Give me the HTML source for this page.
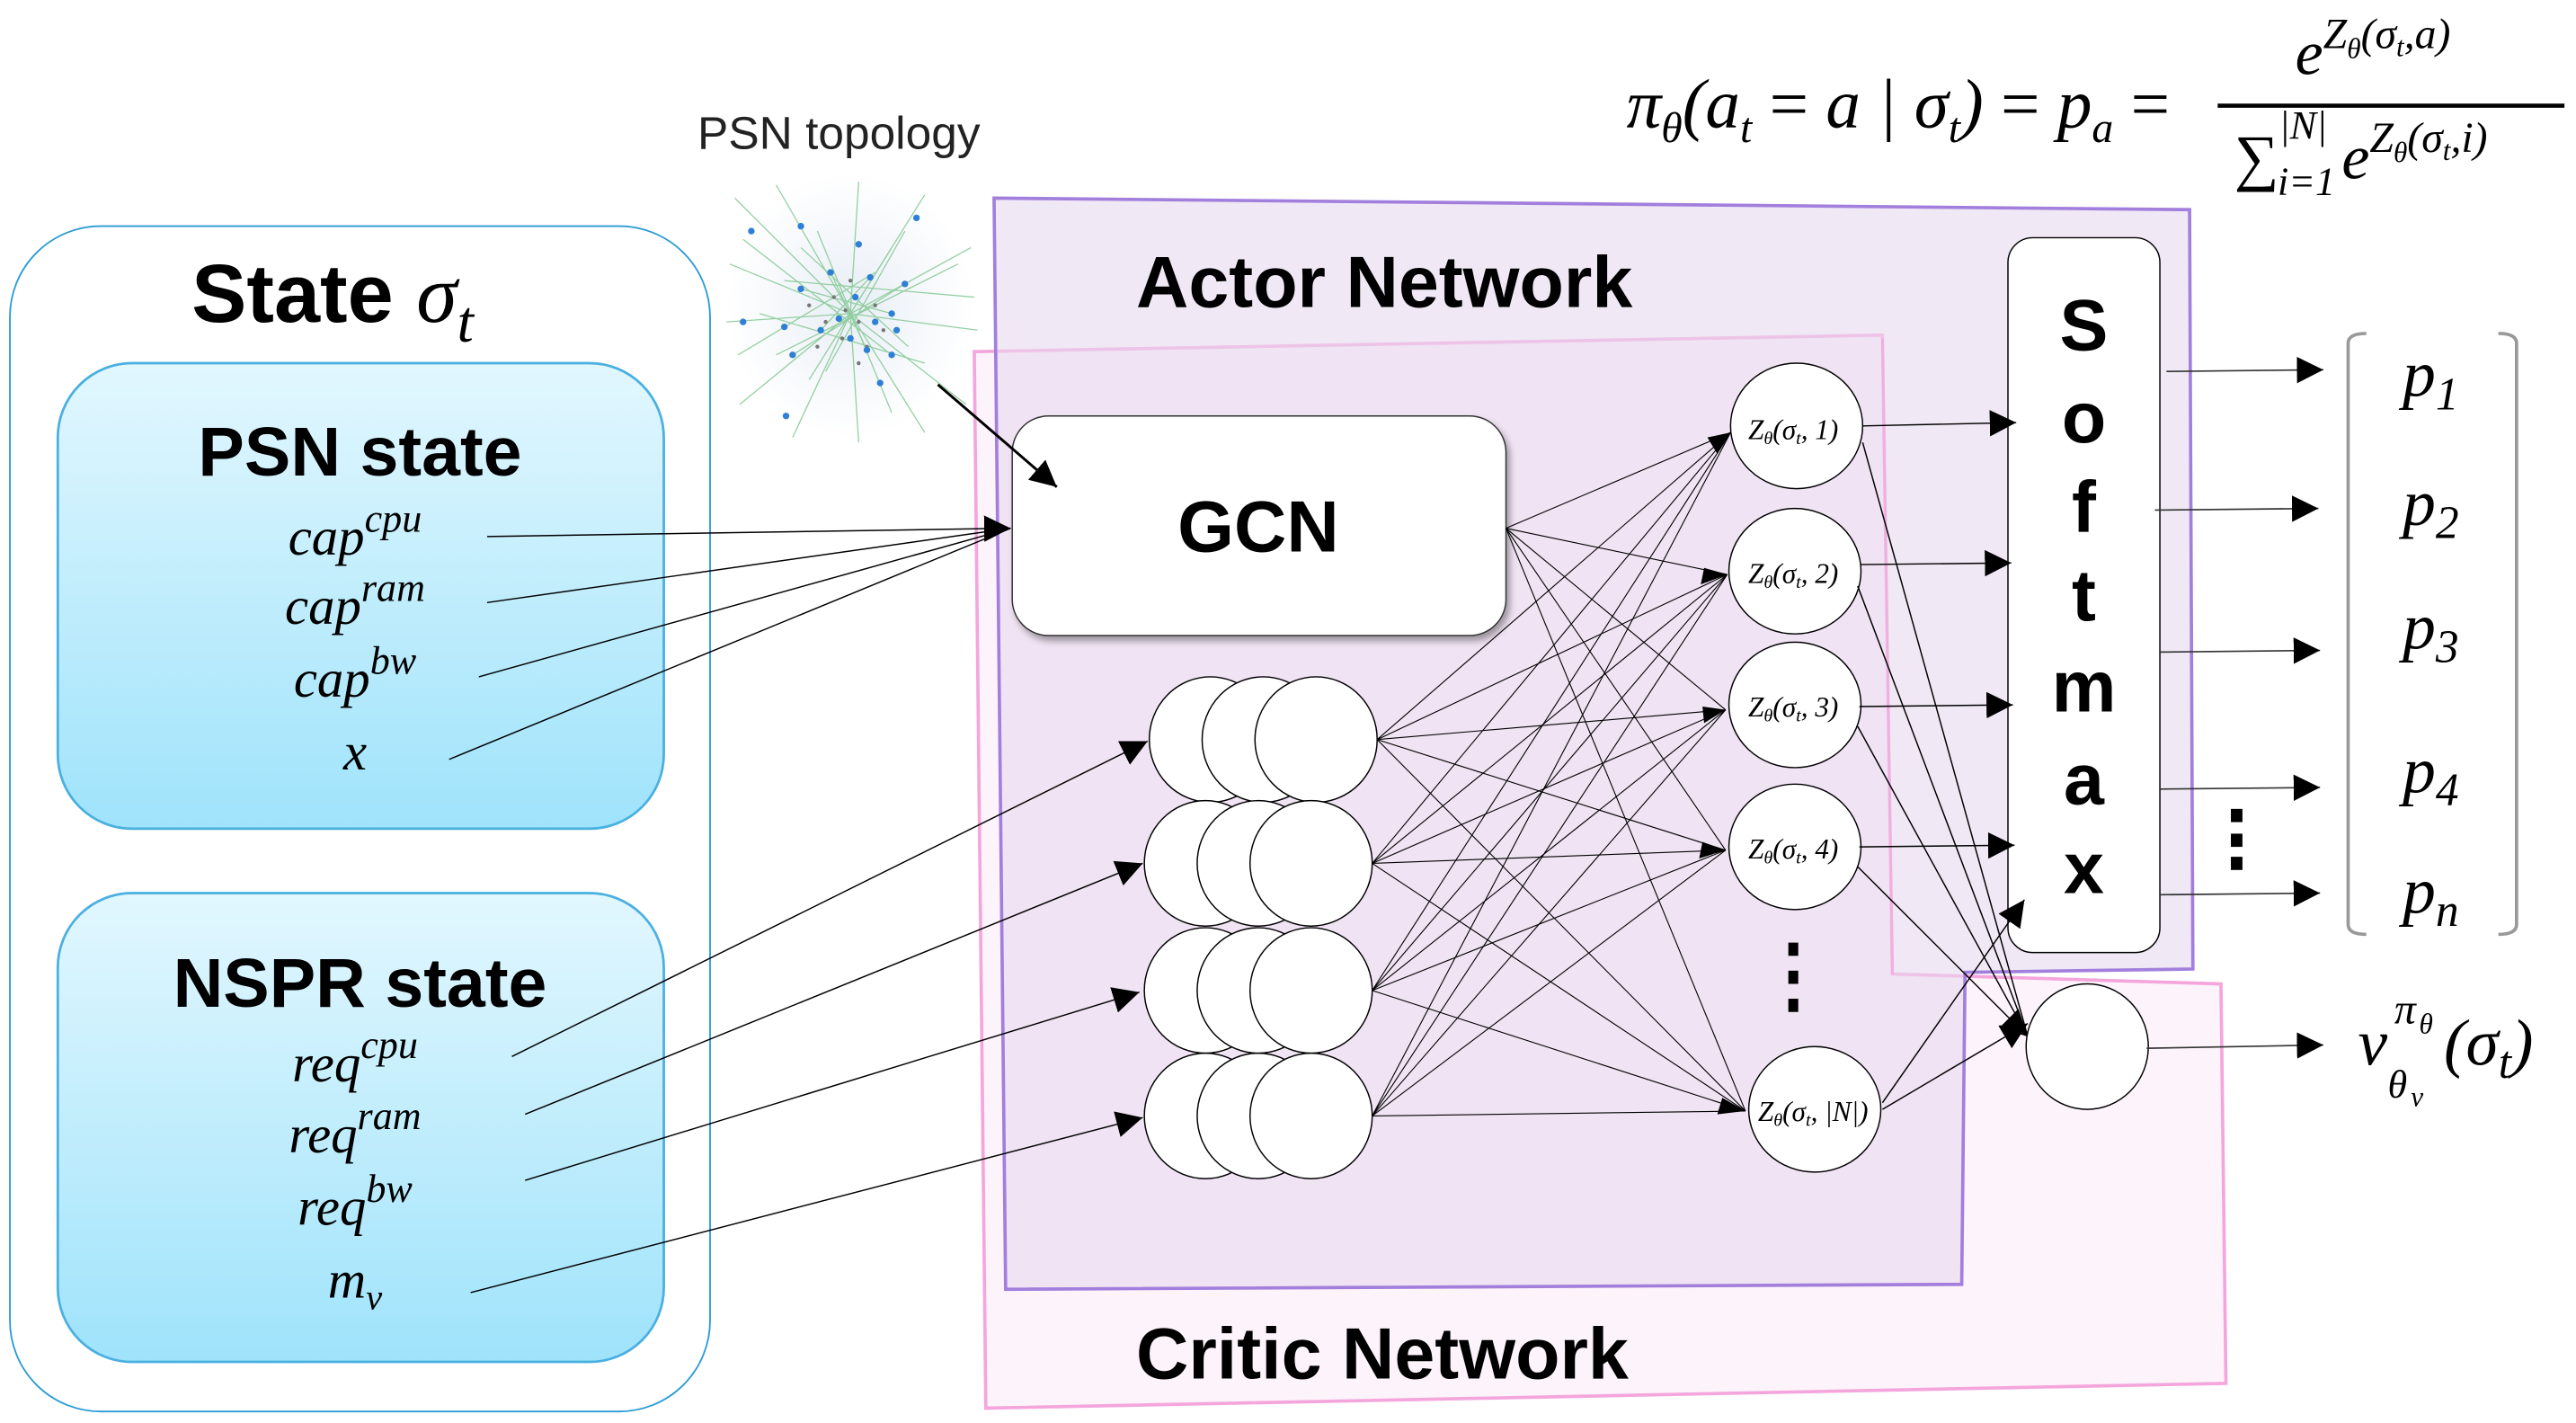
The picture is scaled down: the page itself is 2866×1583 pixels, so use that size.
<!DOCTYPE html>
<html><head><meta charset="utf-8"><style>
html,body{margin:0;padding:0;background:#fff;}
svg{display:block;}
.m{font-family:"Liberation Serif","DejaVu Serif",serif;font-style:italic;}
.b{font-family:"Liberation Sans",sans-serif;font-weight:bold;}
</style></head><body>
<svg width="2866" height="1583" viewBox="0 0 1560 862" preserveAspectRatio="none" xmlns="http://www.w3.org/2000/svg">
<defs>
<linearGradient id="cy" x1="0" y1="0" x2="0" y2="1"><stop offset="0" stop-color="#e2f7fe"/><stop offset="1" stop-color="#9fe3fb"/></linearGradient>
<radialGradient id="bl" cx="0.5" cy="0.5" r="0.5"><stop offset="0" stop-color="#e8eef6"/><stop offset="1" stop-color="#ffffff"/></radialGradient>
<marker id="ah" viewBox="0 0 10 10" refX="10" refY="5" markerWidth="16" markerHeight="16" markerUnits="userSpaceOnUse" orient="auto"><path d="M0,0 L10,5 L0,10 z" fill="#000"/></marker>
<filter id="sh" x="-10%" y="-10%" width="130%" height="130%"><feDropShadow dx="2" dy="3" stdDeviation="2" flood-color="#000" flood-opacity="0.35"/></filter>
</defs>

<!-- State box -->
<rect x="6" y="137" width="424" height="718" rx="55" fill="#fff" stroke="#2a9bd6" stroke-width="1"/>
<text x="116" y="195" class="b" font-size="50">State <tspan class="m" font-weight="normal">σ<tspan font-size="36" dy="12">t</tspan></tspan></text>
<rect x="35" y="220" width="367" height="282" rx="45" fill="url(#cy)" stroke="#4ab0e0" stroke-width="1.5"/>
<text x="218" y="288" text-anchor="middle" class="b" font-size="42">PSN state</text>
<g class="m" font-size="32" text-anchor="middle">
<text x="215" y="336">cap<tspan font-size="24" dy="-14">cpu</tspan></text>
<text x="215" y="378">cap<tspan font-size="24" dy="-14">ram</tspan></text>
<text x="215" y="422">cap<tspan font-size="24" dy="-14">bw</tspan></text>
<text x="215" y="466">x</text>
</g>
<rect x="35" y="541" width="367" height="284" rx="45" fill="url(#cy)" stroke="#4ab0e0" stroke-width="1.5"/>
<text x="218" y="610" text-anchor="middle" class="b" font-size="42">NSPR state</text>
<g class="m" font-size="32" text-anchor="middle">
<text x="215" y="655">req<tspan font-size="24" dy="-14">cpu</tspan></text>
<text x="215" y="698">req<tspan font-size="24" dy="-14">ram</tspan></text>
<text x="215" y="742">req<tspan font-size="24" dy="-14">bw</tspan></text>
<text x="215" y="786">m<tspan font-size="22" dy="7">v</tspan></text>
</g>

<!-- PSN topology -->
<text x="508" y="90" text-anchor="middle" font-family="Liberation Sans,sans-serif" font-size="28" fill="#222">PSN topology</text>
<rect x="440" y="105" width="150" height="160" fill="url(#bl)"/>
<g stroke="#7cc58a" stroke-width="0.7" opacity="0.8">
<line x1="515" y1="190" x2="445" y2="120"/><line x1="515" y1="190" x2="470" y2="112"/><line x1="515" y1="190" x2="520" y2="110"/><line x1="515" y1="190" x2="560" y2="118"/><line x1="515" y1="190" x2="588" y2="150"/><line x1="515" y1="190" x2="592" y2="200"/><line x1="515" y1="190" x2="585" y2="245"/><line x1="515" y1="190" x2="560" y2="262"/><line x1="515" y1="190" x2="520" y2="268"/><line x1="515" y1="190" x2="480" y2="265"/><line x1="515" y1="190" x2="448" y2="245"/><line x1="515" y1="190" x2="440" y2="195"/><line x1="515" y1="190" x2="442" y2="160"/>
<line x1="475" y1="170" x2="590" y2="180"/><line x1="495" y1="140" x2="540" y2="250"/><line x1="470" y1="215" x2="580" y2="160"/><line x1="500" y1="225" x2="548" y2="140"/><line x1="460" y1="190" x2="560" y2="220"/><line x1="485" y1="150" x2="550" y2="210"/><line x1="540" y1="150" x2="490" y2="230"/><line x1="447" y1="215" x2="530" y2="165"/><line x1="450" y1="145" x2="540" y2="215"/>
<line x1="485" y1="175" x2="540" y2="190"/><line x1="503" y1="165" x2="525" y2="212"/><line x1="497" y1="200" x2="527" y2="168"/><line x1="480" y1="215" x2="548" y2="172"/>
</g>
<g fill="#777">
<circle cx="505" cy="180" r="1.2"/><circle cx="520" cy="195" r="1.2"/><circle cx="510" cy="205" r="1.2"/><circle cx="530" cy="185" r="1.2"/><circle cx="500" cy="195" r="1.2"/><circle cx="515" cy="170" r="1.2"/><circle cx="525" cy="210" r="1.2"/><circle cx="495" cy="210" r="1.2"/><circle cx="535" cy="200" r="1.2"/><circle cx="512" cy="188" r="1.2"/><circle cx="490" cy="185" r="1.2"/><circle cx="520" cy="220" r="1.2"/>
</g>
<g fill="#2f7fd6">
<circle cx="503" cy="165" r="2"/><circle cx="527" cy="168" r="2"/><circle cx="518" cy="180" r="2"/><circle cx="508" cy="193" r="2"/><circle cx="530" cy="195" r="2"/><circle cx="515" cy="205" r="2"/><circle cx="497" cy="200" r="2"/><circle cx="540" cy="190" r="2"/><circle cx="525" cy="212" r="2"/><circle cx="485" cy="175" r="2"/><circle cx="480" cy="215" r="2"/><circle cx="475" cy="198" r="2"/><circle cx="520" cy="148" r="2"/><circle cx="540" cy="215" r="2"/><circle cx="533" cy="232" r="2"/><circle cx="455" cy="140" r="2"/><circle cx="485" cy="137" r="2"/><circle cx="555" cy="132" r="2"/><circle cx="548" cy="172" r="2"/><circle cx="450" cy="195" r="2"/><circle cx="476" cy="252" r="2"/><circle cx="543" cy="200" r="2"/>
</g>

<!-- Critic region -->
<polygon points="590,213 1140,203 1146,590 1345,596 1348,838 597,853" fill="#fdf3fa" stroke="#f4a6dc" stroke-width="2"/>
<!-- Actor region -->
<polygon points="602,120 1326,127 1328,587 1190,589 1188,778 609,781" fill="#e7d9ef" fill-opacity="0.6" stroke="#a27fdd" stroke-width="2"/>
<line x1="1140" y1="205" x2="1146" y2="590" stroke="#f4a6dc" stroke-width="1.5" opacity="0.7"/>
<text x="688" y="186" class="b" font-size="44">Actor Network</text>
<text x="688" y="835" class="b" font-size="44">Critic Network</text>

<!-- GCN -->
<rect x="613" y="252" width="299" height="133" rx="22" fill="#fff" stroke="#333" stroke-width="0.8" filter="url(#sh)"/>
<text x="762" y="334" text-anchor="middle" class="b" font-size="44">GCN</text>
<line x1="568" y1="233" x2="640" y2="295" stroke="#000" stroke-width="1.6" marker-end="url(#ah)"/>

<!-- inputs -->
<g stroke="#000" stroke-width="0.8" fill="none">
<line x1="295" y1="325" x2="612" y2="320" marker-end="url(#ah)"/>
<line x1="295" y1="365" x2="612" y2="320"/>
<line x1="290" y1="410" x2="612" y2="320"/>
<line x1="272" y1="460" x2="612" y2="320"/>
<line x1="310" y1="640" x2="695" y2="449" marker-end="url(#ah)"/>
<line x1="318" y1="675" x2="692" y2="523" marker-end="url(#ah)"/>
<line x1="318" y1="715" x2="690" y2="601" marker-end="url(#ah)"/>
<line x1="285" y1="783" x2="692" y2="677" marker-end="url(#ah)"/>
</g>

<!-- stacks -->
<g fill="#fff" stroke="#000" stroke-width="0.8">
<ellipse cx="733" cy="448" rx="37" ry="38"/><ellipse cx="765" cy="448" rx="37" ry="38"/><ellipse cx="797" cy="448" rx="37" ry="38"/>
<ellipse cx="730" cy="523" rx="37" ry="38"/><ellipse cx="762" cy="523" rx="37" ry="38"/><ellipse cx="794" cy="523" rx="37" ry="38"/>
<ellipse cx="730" cy="600" rx="37" ry="38"/><ellipse cx="762" cy="600" rx="37" ry="38"/><ellipse cx="794" cy="600" rx="37" ry="38"/>
<ellipse cx="730" cy="676" rx="37" ry="38"/><ellipse cx="762" cy="676" rx="37" ry="38"/><ellipse cx="794" cy="676" rx="37" ry="38"/>
</g>

<!-- dense connections -->
<g stroke="#000" stroke-width="0.6">
<line x1="912" y1="320" x2="1048" y2="262"/><line x1="912" y1="320" x2="1046" y2="348"/><line x1="912" y1="320" x2="1045" y2="430"/><line x1="912" y1="320" x2="1045" y2="515"/><line x1="912" y1="320" x2="1057" y2="673"/>
<line x1="834" y1="448" x2="1048" y2="262"/><line x1="834" y1="448" x2="1046" y2="348"/><line x1="834" y1="448" x2="1045" y2="430"/><line x1="834" y1="448" x2="1045" y2="515"/><line x1="834" y1="448" x2="1057" y2="673"/>
<line x1="831" y1="523" x2="1048" y2="262"/><line x1="831" y1="523" x2="1046" y2="348"/><line x1="831" y1="523" x2="1045" y2="430"/><line x1="831" y1="523" x2="1045" y2="515"/><line x1="831" y1="523" x2="1057" y2="673"/>
<line x1="831" y1="600" x2="1048" y2="262"/><line x1="831" y1="600" x2="1046" y2="348"/><line x1="831" y1="600" x2="1045" y2="430"/><line x1="831" y1="600" x2="1045" y2="515"/><line x1="831" y1="600" x2="1057" y2="673"/>
<line x1="831" y1="676" x2="1048" y2="262"/><line x1="831" y1="676" x2="1046" y2="348"/><line x1="831" y1="676" x2="1045" y2="430"/><line x1="831" y1="676" x2="1045" y2="515"/><line x1="831" y1="676" x2="1057" y2="673"/>
</g>
<g fill="#000">
<path d="M1048,262 l-14,3 l6,10 z"/><path d="M1046,348 l-14,-4 l-2,10 z"/><path d="M1045,430 l-14,-2 l1,10 z"/><path d="M1045,515 l-14,-5 l-2,10 z"/><path d="M1057,673 l-14,-8 l-3,10 z"/>
</g>

<!-- Z nodes -->
<g fill="#fff" stroke="#000" stroke-width="0.8">
<ellipse cx="1088" cy="258" rx="40" ry="38"/>
<ellipse cx="1087" cy="346" rx="40" ry="38"/>
<ellipse cx="1087" cy="427" rx="40" ry="38"/>
<ellipse cx="1087" cy="513" rx="40" ry="38"/>
<ellipse cx="1099" cy="672" rx="40" ry="38"/>
</g>
<g class="m" font-size="17" text-anchor="middle">
<text x="1086" y="266">Z<tspan font-size="11" dy="3">θ</tspan><tspan dy="-3">(σ</tspan><tspan font-size="11" dy="3">t</tspan><tspan dy="-3">, 1)</tspan></text>
<text x="1086" y="353">Z<tspan font-size="11" dy="3">θ</tspan><tspan dy="-3">(σ</tspan><tspan font-size="11" dy="3">t</tspan><tspan dy="-3">, 2)</tspan></text>
<text x="1086" y="434">Z<tspan font-size="11" dy="3">θ</tspan><tspan dy="-3">(σ</tspan><tspan font-size="11" dy="3">t</tspan><tspan dy="-3">, 3)</tspan></text>
<text x="1086" y="520">Z<tspan font-size="11" dy="3">θ</tspan><tspan dy="-3">(σ</tspan><tspan font-size="11" dy="3">t</tspan><tspan dy="-3">, 4)</tspan></text>
<text x="1098" y="679">Z<tspan font-size="11" dy="3">θ</tspan><tspan dy="-3">(σ</tspan><tspan font-size="11" dy="3">t</tspan><tspan dy="-3">, |N|)</tspan></text>
</g>
<g fill="#000"><rect x="1083" y="571" width="6" height="8"/><rect x="1083" y="588" width="6" height="8"/><rect x="1083" y="605" width="6" height="8"/></g>

<!-- Softmax -->
<rect x="1216" y="144" width="92" height="433" rx="15" fill="#fff" stroke="#000" stroke-width="0.8"/>
<g class="b" font-size="44" text-anchor="middle">
<text x="1262" y="212">S</text><text x="1262" y="268">o</text><text x="1262" y="322">f</text><text x="1262" y="376">t</text><text x="1262" y="431">m</text><text x="1262" y="487">a</text><text x="1262" y="541">x</text>
</g>

<g stroke="#000" stroke-width="0.8">
<line x1="1128" y1="258" x2="1221" y2="256" marker-end="url(#ah)"/>
<line x1="1127" y1="342" x2="1218" y2="341" marker-end="url(#ah)"/>
<line x1="1126" y1="428" x2="1219" y2="427" marker-end="url(#ah)"/>
<line x1="1126" y1="513" x2="1220" y2="512" marker-end="url(#ah)"/>
<line x1="1128" y1="268" x2="1228" y2="628"/>
<line x1="1125" y1="355" x2="1228" y2="628"/>
<line x1="1125" y1="440" x2="1228" y2="628"/>
<line x1="1125" y1="525" x2="1228" y2="628" marker-end="url(#ah)"/>
<line x1="1140" y1="668" x2="1226" y2="545" marker-end="url(#ah)"/>
<line x1="1140" y1="672" x2="1228" y2="620" marker-end="url(#ah)"/>
</g>
<ellipse cx="1264" cy="634" rx="37" ry="38" fill="#fff" stroke="#000" stroke-width="0.8"/>

<!-- outputs -->
<g stroke="#333" stroke-width="0.9">
<line x1="1312" y1="225" x2="1407" y2="224" marker-end="url(#ah)"/>
<line x1="1305" y1="309" x2="1404" y2="308" marker-end="url(#ah)"/>
<line x1="1308" y1="395" x2="1405" y2="394" marker-end="url(#ah)"/>
<line x1="1308" y1="478" x2="1405" y2="477" marker-end="url(#ah)"/>
<line x1="1308" y1="542" x2="1405" y2="541" marker-end="url(#ah)"/>
<line x1="1300" y1="635" x2="1407" y2="633" marker-end="url(#ah)"/>
</g>
<g fill="#000"><rect x="1351" y="490" width="7" height="8"/><rect x="1351" y="505" width="7" height="8"/><rect x="1351" y="519" width="7" height="8"/></g>
<path d="M1433,202 Q1422,202 1422,208 L1422,560 Q1422,566 1433,566" fill="none" stroke="#999" stroke-width="2"/>
<path d="M1513,202 Q1524,202 1524,208 L1524,560 Q1524,566 1513,566" fill="none" stroke="#999" stroke-width="2"/>
<g class="m" font-size="40" text-anchor="middle">
<text x="1472" y="240">p<tspan font-size="28" dy="8">1</tspan></text>
<text x="1472" y="318">p<tspan font-size="28" dy="8">2</tspan></text>
<text x="1472" y="393">p<tspan font-size="28" dy="8">3</tspan></text>
<text x="1472" y="480">p<tspan font-size="28" dy="8">4</tspan></text>
<text x="1472" y="553">p<tspan font-size="28" dy="8">n</tspan></text>
</g>
<g class="m">
<text x="1428" y="645" font-size="40">v</text>
<text x="1450" y="620" font-size="26">π</text>
<text x="1465" y="626" font-size="17">θ</text>
<text x="1446" y="665" font-size="24">θ</text>
<text x="1460" y="670" font-size="17">v</text>
<text x="1480" y="645" font-size="40">(σ<tspan font-size="28" dy="8">t</tspan><tspan dy="-8">)</tspan></text>
</g>

<!-- formula -->
<text x="985" y="77" class="m" font-size="42">π<tspan font-size="26" dy="9">θ</tspan><tspan dy="-9">(a</tspan><tspan font-size="26" dy="9">t</tspan><tspan dy="-9" font-style="normal"> = </tspan><tspan>a | σ</tspan><tspan font-size="26" dy="9">t</tspan><tspan dy="-9">)</tspan><tspan font-style="normal"> = </tspan><tspan>p</tspan><tspan font-size="26" dy="9">a</tspan><tspan dy="-9" font-style="normal"> =</tspan></text>
<line x1="1343" y1="64" x2="1553" y2="64" stroke="#000" stroke-width="2.5"/>
<text x="1390" y="45" class="m" font-size="38">e<tspan font-size="26" dy="-16">Z</tspan><tspan font-size="17" dy="6">θ</tspan><tspan font-size="26" dy="-6">(σ</tspan><tspan font-size="17" dy="5">t</tspan><tspan font-size="26" dy="-5">,a)</tspan></text>
<text x="1353" y="108" class="m" font-size="38"><tspan font-style="normal">∑</tspan><tspan font-size="24" dy="-24">|N|</tspan><tspan font-size="24" dx="-30" dy="34">i=1</tspan><tspan font-size="38" dx="4" dy="-10">e</tspan><tspan font-size="26" dy="-16">Z</tspan><tspan font-size="17" dy="6">θ</tspan><tspan font-size="26" dy="-6">(σ</tspan><tspan font-size="17" dy="5">t</tspan><tspan font-size="26" dy="-5">,i)</tspan></text>
</svg>
</body></html>
